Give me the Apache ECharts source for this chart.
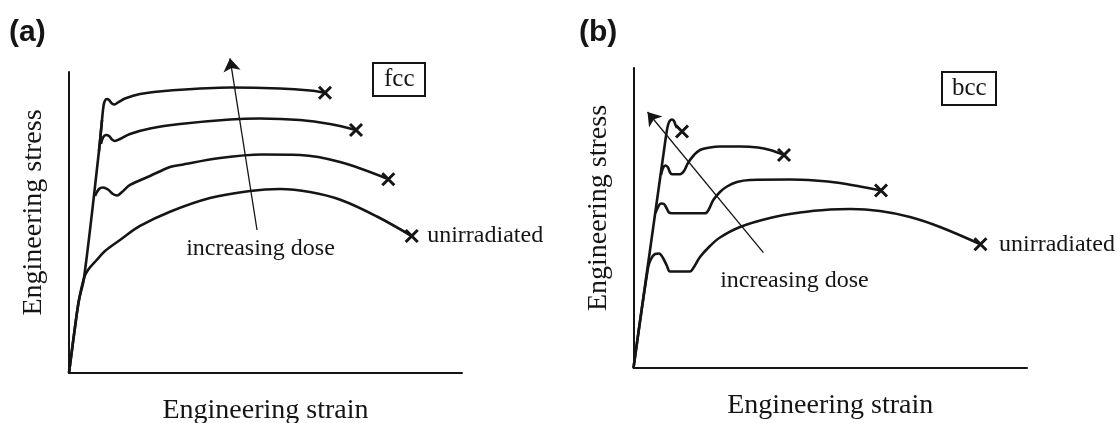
<!DOCTYPE html>
<html>
<head>
<meta charset="utf-8">
<script src="https://cdn.jsdelivr.net/npm/echarts@6/dist/echarts.min.js"></script>
<style>
  html, body { margin: 0; padding: 0; background: #fff; }
  #chart { width: 1117px; height: 423px; }
</style>
</head>
<body>
<div id="chart"></div>
<script>
// Schematic engineering stress–strain curves (arbitrary units, axes 0–100)

// ---- (a) fcc ----
const fccElastic = [[0, 0], [1.53, 15.28], [2.54, 24.25], [3.82, 31.56], [7.63, 73.75], [8.40, 84.05]];
const fccDose3 = [[7.63, 73.75], [8.40, 84.05], [8.78, 88.70], [9.16, 90.53], [9.67, 91.03], [10.18, 90.70],
  [10.94, 89.53], [11.58, 89.20], [12.47, 89.87], [14.25, 91.20], [18.07, 92.69], [25.70, 93.85],
  [40.97, 94.85], [53.69, 94.52], [61.32, 93.85], [65.14, 93.12]];
const fccDose2 = [[8.14, 76.08], [8.65, 78.24], [9.41, 79.07], [10.18, 78.74], [10.94, 77.57], [11.70, 77.08],
  [12.98, 77.74], [15.52, 79.40], [20.61, 81.23], [28.24, 82.72], [40.97, 84.22], [48.60, 84.55],
  [58.78, 84.05], [66.41, 82.72], [73.03, 80.73]];
const fccDose1 = [[6.62, 58.80], [7.63, 61.13], [8.65, 61.63], [9.92, 60.96], [11.20, 59.47], [12.21, 58.97],
  [13.49, 60.13], [15.52, 62.46], [20.61, 65.45], [25.70, 68.44], [28.24, 69.10], [38.42, 71.43],
  [49.11, 72.59], [58.78, 72.43], [68.96, 70.10], [81.17, 64.45]];
const fccUnirr = [[0, 0], [1.53, 15.28], [2.54, 24.25], [3.82, 31.56], [4.83, 34.22], [7.05, 37.54],
  [9.16, 40.53], [12.98, 44.19], [18.07, 48.84], [25.70, 53.59], [35.88, 58.14], [46.06, 60.47],
  [53.69, 61.13], [61.32, 60.13], [69.21, 57.48], [78.37, 51.99], [87.20, 45.51]];
const fccFracture = [[65.14, 93.12], [73.03, 80.73], [81.25, 64.35], [87.20, 45.51]];
const fccArrow = [[47.84, 47.51], [40.97, 104.55]];

// ---- (b) bcc ----
const bccElastic = [[0, 0], [8.26, 77.33]];
const bccDose3 = [[8.26, 77.33], [8.77, 81.0], [9.28, 82.5], [9.78, 82.83], [10.29, 82.33], [10.67, 81.0], [11.05, 80.0]];
const bccDose2 = [[6.99, 64.33], [7.50, 66.67], [8.13, 67.50], [8.77, 66.83], [9.28, 65.17], [9.78, 64.57],
  [11.82, 64.57], [12.83, 65.67], [13.85, 68.33], [15.38, 71.0], [16.90, 72.67], [19.44, 73.50],
  [21.98, 73.83], [27.07, 73.83], [31.64, 73.50], [34.69, 72.67], [38.25, 71.0]];
const bccDose1 = [[5.59, 51.67], [6.23, 53.67], [6.99, 54.83], [7.75, 54.67], [8.39, 53.33], [9.02, 51.83],
  [9.78, 51.57], [18.17, 51.57], [19.19, 53.0], [20.28, 56.0], [21.98, 58.67], [23.76, 60.5],
  [26.30, 62.0], [29.61, 62.67], [39.77, 62.83], [46.12, 62.5], [52.48, 61.67], [57.56, 60.5], [62.90, 59.17]];
const bccUnirr = [[0, 0], [3.68, 33.33], [4.45, 36.33], [5.46, 38.0], [6.48, 38.17], [7.50, 36.67],
  [8.51, 34.0], [9.28, 32.17], [14.36, 32.17], [15.37, 33.67], [16.90, 37.0], [19.44, 40.67],
  [21.98, 43.5], [27.06, 47.0], [34.69, 50.0], [42.31, 51.83], [49.94, 52.83], [55.27, 53.0],
  [62.64, 52.33], [70.27, 50.33], [77.90, 47.0], [88.18, 41.23]];
const bccFracture = [[12.33, 78.83], [38.25, 71.0], [62.90, 59.17], [88.18, 41.23]];
const bccArrow = [[33.01, 38.43], [3.56, 85.33]];

// Text anchors (data coordinates)
const doseNoteA = [48.73, 41.4];
const doseNoteB = [40.9, 29.0];
const doseText = 'increasing dose';
const unirrText = 'unirradiated';
const xTitle = 'Engineering strain';
const yTitle = 'Engineering stress';

const INK = '#151515';
const SERIF = '"Liberation Serif", "Times New Roman", serif';
const SANS = '"Liberation Sans", Arial, sans-serif';

function curve(data, gi, w) {
  return {
    type: 'line', data: data, xAxisIndex: gi, yAxisIndex: gi,
    smooth: 0.35, showSymbol: false, symbol: 'none', silent: true,
    lineStyle: { color: INK, width: w || 2.6 }, z: 3
  };
}

function fractures(data, gi) {
  return {
    type: 'scatter', data: data.map((p, i) => ({
      value: p,
      label: i === data.length - 1 ? {
        show: true, position: 'right', distance: gi === 0 ? 7 : 10,
        formatter: unirrText, fontFamily: SERIF, fontSize: 24, color: INK, opacity: 1
      } : { show: false }
    })),
    xAxisIndex: gi, yAxisIndex: gi, silent: true,
    symbol: 'path://M0,0L10,10M10,0L0,10', symbolSize: 12,
    itemStyle: { color: 'none', borderColor: INK, borderWidth: 3, opacity: 1 }, z: 5
  };
}

function arrow(coords, gi) {
  return {
    type: 'lines', coordinateSystem: 'cartesian2d', xAxisIndex: gi, yAxisIndex: gi,
    clip: false, silent: true,
    symbol: ['none', 'arrow'], symbolSize: [8, 13],
    lineStyle: { color: INK, width: 1.3, opacity: 1, curveness: 0 },
    data: [{ coords: coords }], z: 4
  };
}

function note(pt, gi) {
  return {
    type: 'scatter', xAxisIndex: gi, yAxisIndex: gi, silent: true,
    symbolSize: 0, data: [pt], itemStyle: { opacity: 1 },
    label: { show: true, position: 'inside', formatter: doseText, fontFamily: SERIF, fontSize: 24, color: INK, opacity: 1 },
    z: 6
  };
}

function axisPair(gi) {
  const common = {
    gridIndex: gi, type: 'value', min: 0, max: 100,
    axisLine: { show: true, lineStyle: { color: INK, width: 2 } },
    axisTick: { show: false }, axisLabel: { show: false }, splitLine: { show: false },
    nameLocation: 'middle'
  };
  const style = { fontFamily: SERIF, fontSize: 28, color: INK };
  return {
    x: Object.assign({}, common, { name: xTitle, nameGap: 24, nameTextStyle: style }),
    // the stress title sits a little above the axis midpoint
    y: Object.assign({}, common, { name: yTitle, nameGap: 21,
      nameTextStyle: Object.assign({ padding: [0, 0, 0, 20] }, style) })
  };
}

const axA = axisPair(0), axB = axisPair(1);

const chart = echarts.init(document.getElementById('chart'), null, { renderer: 'canvas' });
chart.setOption({
  backgroundColor: '#ffffff',
  animation: false,
  title: [
    { text: '(a)', left: 4, top: 13, textStyle: { fontFamily: SANS, fontWeight: 'bold', fontSize: 30, color: INK } },
    { text: '(b)', left: 574, top: 13, textStyle: { fontFamily: SANS, fontWeight: 'bold', fontSize: 30, color: INK } },
    { text: 'fcc', left: 373, top: 63, padding: [4, 11, 4, 11], borderColor: INK, borderWidth: 2,
      textStyle: { fontFamily: SERIF, fontSize: 25, fontWeight: 'normal', color: INK } },
    { text: 'bcc', left: 942, top: 72, padding: [4, 10, 4, 10], borderColor: INK, borderWidth: 2,
      textStyle: { fontFamily: SERIF, fontSize: 25, fontWeight: 'normal', color: INK } }
  ],
  grid: [
    { left: 69, top: 72, width: 393, height: 301, containLabel: false, outerBoundsMode: 'none' },
    { left: 633.5, top: 68, width: 393.5, height: 300, containLabel: false, outerBoundsMode: 'none' }
  ],
  xAxis: [axA.x, axB.x],
  yAxis: [axA.y, axB.y],
  series: [
    curve(fccElastic, 0), curve(fccDose3, 0), curve(fccDose2, 0), curve(fccDose1, 0), curve(fccUnirr, 0),
    fractures(fccFracture, 0), arrow(fccArrow, 0), note(doseNoteA, 0),
    curve(bccElastic, 1), curve(bccDose3, 1), curve(bccDose2, 1), curve(bccDose1, 1), curve(bccUnirr, 1),
    fractures(bccFracture, 1), arrow(bccArrow, 1), note(doseNoteB, 1)
  ]
});
</script>
</body>
</html>
